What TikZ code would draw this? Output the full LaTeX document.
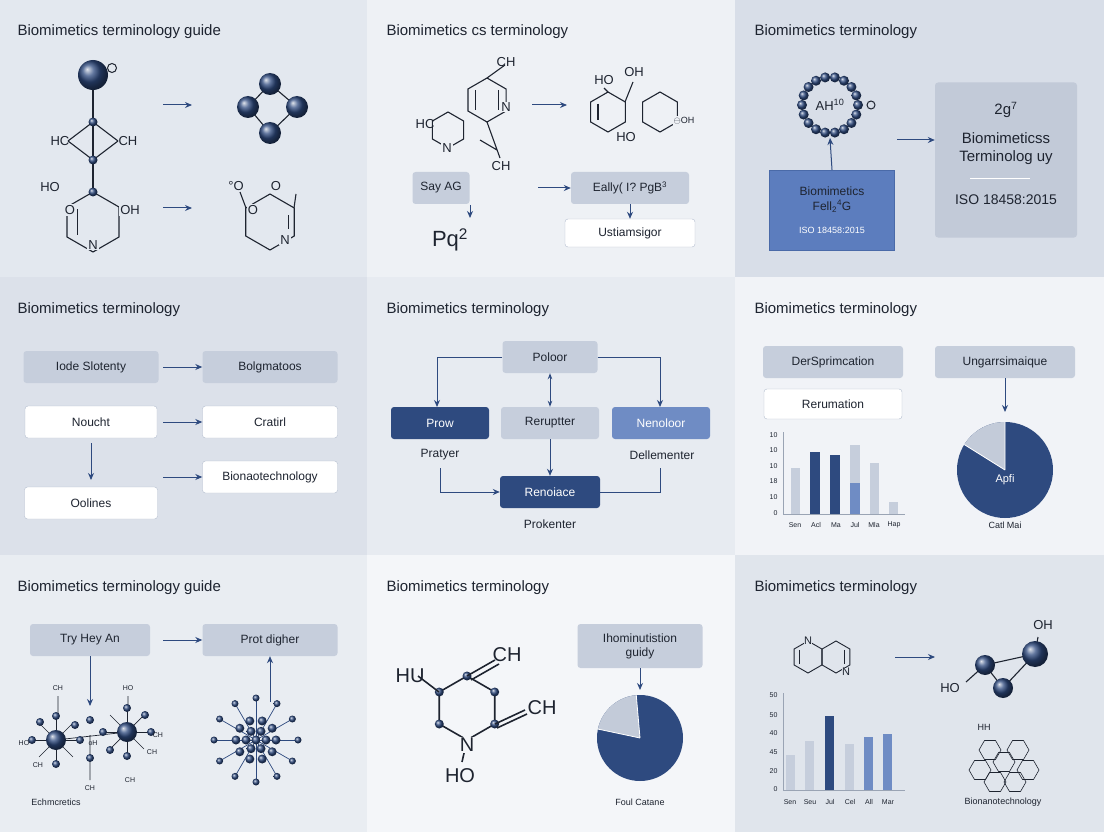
\documentclass[tikz,border=0pt]{standalone}
\usepackage{fontspec}
\setmainfont{Liberation Sans}
\usetikzlibrary{arrows.meta,shapes.geometric,calc}
\definecolor{dk}{HTML}{2E4A7F}
\definecolor{md}{HTML}{6F8CC4}
\definecolor{lb}{HTML}{C6CEDC}
\definecolor{bd}{HTML}{B3BDCE}
\definecolor{tx}{HTML}{1E2430}
\definecolor{pa}{HTML}{E3E8EF}
\definecolor{pb}{HTML}{EEF1F5}
\definecolor{pc}{HTML}{D8DEE8}
\definecolor{pd}{HTML}{DCE1EA}
\definecolor{pe}{HTML}{E7EBF1}
\definecolor{pf}{HTML}{F1F3F7}
\definecolor{pg}{HTML}{E9EDF2}
\definecolor{ph}{HTML}{F4F6F9}
\definecolor{pi}{HTML}{E0E5EC}
\definecolor{bl}{HTML}{5C7DBE}
\definecolor{blb}{HTML}{4A6AA8}
\definecolor{gb}{HTML}{C2CAD8}
\definecolor{ax}{HTML}{9AA4B4}
\definecolor{pl}{HTML}{C3CBD9}
\tikzset{
 lbox/.style={fill=lb,rounded corners=3pt,minimum height=32pt,text=tx,font=\fontsize{12}{14}\selectfont},
 wbox/.style={fill=white,draw=bd,rounded corners=3pt,minimum height=32pt,text=tx,font=\fontsize{12}{14}\selectfont},
 dbox/.style={fill=dk,rounded corners=3pt,minimum height=32pt,text=white,font=\fontsize{12}{14}\selectfont},
 arr/.style={-{Stealth[length=7pt,width=6pt]},draw=dk,line width=1pt},
 ttl/.style={anchor=west,font=\fontsize{15}{17}\selectfont,text=tx},
 lab/.style={font=\fontsize{13}{15}\selectfont,text=tx},
 sm/.style={font=\fontsize{7}{8}\selectfont,text=tx},
 ball/.style={circle,shade,ball color=dk,inner sep=0pt},
 bond/.style={draw=tx,line width=1.1pt},
}
\begin{document}
\begin{tikzpicture}[x=1pt,y=-1pt]
\useasboundingbox (0,0) rectangle (1104,832);
% panels
\fill[pa] (0,0) rectangle (367,277);
\fill[pb] (367,0) rectangle (735,277);
\fill[pc] (735,0) rectangle (1104,277);
\fill[pd] (0,277) rectangle (367,555);
\fill[pe] (367,277) rectangle (735,555);
\fill[pf] (735,277) rectangle (1104,555);
\fill[pg] (0,555) rectangle (367,832);
\fill[ph] (367,555) rectangle (735,832);
\fill[pi] (735,555) rectangle (1104,832);
% titles
\node[ttl] (t1) at (14,32) {Biomimetics terminology guide};
\node[ttl] (t2) at (383,32) {Biomimetics cs terminology};
\node[ttl] (t3) at (751,32) {Biomimetics terminology};
\node[ttl] (t4) at (14,310) {Biomimetics terminology};
\node[ttl] (t5) at (383,310) {Biomimetics terminology};
\node[ttl] (t6) at (751,310) {Biomimetics terminology};
\node[ttl] (t7) at (14,588) {Biomimetics terminology guide};
\node[ttl] (t8) at (383,588) {Biomimetics terminology};
\node[ttl] (t9) at (751,588) {Biomimetics terminology};

% ---------- panel 1
\draw[bond] (93,75) -- (93,160);
\draw[bond] (93,122) -- (68,141) (93,122) -- (118,141) (68,141) -- (93,160) (118,141) -- (93,160);
\begin{scope}[shift={(93,222)},y=1pt]
\draw[bond] (90:30) -- (150:30) -- (210:30) -- (270:30) -- (330:30) -- (30:30) -- cycle;
\draw[bond] (140:20) -- (220:20);
\end{scope}
\draw[bond] (93,160) -- (93,192);
\node[ball,minimum size=30pt] (b1) at (93,75) {};
\node[circle,draw=tx,line width=1pt,minimum size=9pt,inner sep=0pt] (o1) at (112,68) {};
\foreach \p in {(93,122),(93,160),(93,192)} \node[ball,minimum size=9pt] at \p {};
\node[lab] (hc1) at (60,141) {HC};
\node[lab] (ch1) at (128,141) {CH};
\node[lab] (ho1) at (50,187) {HO};
\node[lab,fill=pa,inner sep=1pt] at (70,210) {O};
\node[lab,fill=pa,inner sep=1pt] at (130,210) {OH};
\node[lab,fill=pa,inner sep=1pt] at (93,245) {N};
\coordinate (a1s) at (163,105); \coordinate (a1e) at (192,105);
\draw[arr] (a1s) -- (a1e);
\coordinate (a2s) at (163,208); \coordinate (a2e) at (192,208);
\draw[arr] (a2s) -- (a2e);
\draw[bond] (248,107) -- (270,84) -- (297,107) -- (270,133) -- cycle;
\foreach \p in {(248,107),(270,84),(297,107),(270,133)} \node[ball,minimum size=22pt] at \p {};
\begin{scope}[shift={(270,222)},y=1pt]
\draw[bond] (90:28) -- (150:28) -- (210:28) -- (270:28) -- (330:28) -- (30:28) -- cycle;
\draw[bond] (20:20) -- (-20:20);
\end{scope}
\draw[bond] (246,208) -- (240,192) (294,208) -- (296,194);
\node[lab,fill=pa,inner sep=1pt] at (253,210) {O};
\node[lab] at (236,186) {\textdegree O};
\node[lab] at (276,186) {O};
\node[lab,fill=pa,inner sep=1pt] at (285,240) {N};

% ---------- panel 2
\begin{scope}[shift={(487,100)},y=1pt]
\draw[bond] (90:22) -- (150:22) -- (210:22) -- (270:22) -- (330:22) -- (30:22) -- cycle;
\draw[bond] (140:15) -- (220:15) (320:15) -- (40:15);
\end{scope}
\begin{scope}[shift={(448,130)},y=1pt]
\draw[bond] (90:18) -- (150:18) -- (210:18) -- (270:18) -- (330:18) -- (30:18) -- cycle;
\end{scope}
\draw[bond] (487,78) -- (505,65) (487,122) -- (500,158) (480,140) -- (497,150);
\node[lab] at (506,62) {CH};
\node[lab,fill=pb,inner sep=1pt] at (506,107) {N};
\node[lab] at (425,124) {HC};
\node[lab] at (501,166) {CH};
\node[lab,fill=pb,inner sep=1pt] at (447,148) {N};
\coordinate (a3s) at (532,105); \coordinate (a3e) at (567,105);
\draw[arr] (a3s) -- (a3e);
\begin{scope}[shift={(608,112)},y=1pt]
\draw[bond] (90:20) -- (150:20) -- (210:20) -- (270:20) -- (330:20) -- (30:20) -- cycle;
\draw[bond] (140:13) -- (220:13);
\end{scope}
\begin{scope}[shift={(660,112)},y=1pt]
\draw[bond] (90:20) -- (150:20) -- (210:20) -- (270:20) -- (330:20) -- (30:20) -- cycle;
\end{scope}
\draw[bond] (625,102) -- (633,82) (608,92) -- (604,88);
\node[lab] at (604,80) {HO};
\node[lab] at (634,72) {OH};
\node[lab,fill=pb,inner sep=1pt] at (684,121) {\small$\ominus$OH};
\node[lab,fill=pb,inner sep=1pt] at (626,137) {HO};
\node[lbox,minimum width=57pt] (say) at (441,188) {Say AG};
\node[lbox,minimum width=118pt] (eal) at (630,188) {Eally( I? PgB\textsuperscript{3}};
\coordinate (sa) at (538,188);
\draw[arr] (sa) -- (eal);
\node[font=\fontsize{22}{24}\selectfont,text=tx] (pq) at (450,240) {Pq\textsuperscript{2}};
\draw[arr] (470,205) -- (470,218);
\node[wbox,minimum width=130pt,minimum height=28pt] (ust) at (630,233) {Ustiamsigor};
\draw[arr] (eal.south) -- (ust.north);

% ---------- panel 3
\foreach \a in {0,20,...,340} \node[ball,minimum size=10pt] at ($(830,105)+(\a:28)$) {};
\node[lab] at (830,105) {AH\textsuperscript{10}};
\node[circle,draw=tx,line width=1pt,minimum size=8pt,inner sep=0pt] at (871,105) {};
\node[fill=bl,minimum width=125pt,minimum height=80pt,draw=blb,text=tx,align=center,font=\fontsize{12}{15}\selectfont] (bio) at (832,210) {Biomimetics\\Fell\textsubscript{2}\textsuperscript{4}G\\[8pt]\color{white}\fontsize{9}{10}\selectfont ISO 18458:2015};
\draw[arr] (bio.north) -- (830,138);
\node[fill=gb,rounded corners=3pt,minimum width=142pt,minimum height=155pt] (gbx) at (1006,160) {};
\node[lab,font=\fontsize{15}{17}\selectfont] at (1006,110) {2g\textsuperscript{7}};
\node[lab,font=\fontsize{15}{17}\selectfont] at (1006,138) {Biomimeticss};
\node[lab,font=\fontsize{15}{17}\selectfont] at (1006,158) {Terminolog uy};
\draw[white,line width=0.8pt] (970,178) -- (1030,178);
\node[lab,font=\fontsize{14}{16}\selectfont] at (1006,200) {ISO 18458:2015};
\draw[arr] (897,140) -- (gbx.west |- 0,140);

% ---------- panel 4
\node[lbox,minimum width=135pt] (n41) at (91,367) {Iode Slotenty};
\node[lbox,minimum width=135pt] (n42) at (270,367) {Bolgmatoos};
\node[wbox,minimum width=132pt] (n43) at (91,422) {Noucht};
\node[wbox,minimum width=135pt] (n44) at (270,422) {Cratirl};
\node[wbox,minimum width=133pt] (n45) at (91,503) {Oolines};
\node[wbox,minimum width=135pt] (n46) at (270,477) {Bionaotechnology};
\draw[arr] (163,367) -- (n42);
\draw[arr] (163,422) -- (n44);
\draw[arr] (163,477) -- (n46);
\draw[arr] (91,443) -- (91,480);

% ---------- panel 5
\node[lbox,minimum width=95pt] (po) at (550,357) {Poloor};
\node[dbox,minimum width=98pt] (pr) at (440,423) {Prow};
\node[lbox,minimum width=98pt] (re) at (550,423) {Reruptter};
\node[fill=md,rounded corners=3pt,minimum height=32pt,minimum width=98pt,text=white,font=\fontsize{12}{14}\selectfont] (ne) at (661,423) {Nenoloor};
\node[lab,font=\fontsize{12}{14}\selectfont] (pt) at (440,455) {Pratyer};
\node[lab,font=\fontsize{12}{14}\selectfont] (de) at (662,455) {Dellementer};
\node[dbox,minimum width=100pt] (rn) at (550,492) {Renoiace};
\node[lab,font=\fontsize{12}{14}\selectfont] (pk) at (550,524) {Prokenter};
\draw[arr] (po.west) -| (437,407);
\draw[arr] (po.east) -| (660,407);
\draw[{Stealth[length=6pt]}-{Stealth[length=6pt]},draw=dk,line width=1pt] (po.south) -- (re.north);
\draw[arr] (re.south) -- (rn.north);
\draw[arr] (440,468) |- (rn.west);
\draw[draw=dk,line width=1pt] (660,468) |- (rn.east);

% ---------- panel 6
\node[lbox,minimum width=140pt] (ds) at (833,362) {DerSprimcation};
\node[lbox,minimum width=140pt] (ug) at (1005,362) {Ungarrsimaique};
\node[wbox,minimum width=138pt,minimum height=30pt] (ru) at (833,404) {Rerumation};
\draw[ax,line width=0.6pt] (783,432) -- (783,514) -- (905,514);
\foreach \v/\y in {10/435,10/450,10/466,18/481,10/497,0/513} \node[sm,anchor=east] at (781,\y) {\v};
\fill[lb] (791,468) rectangle (800,514);
\fill[dk] (810,452) rectangle (820,514);
\fill[dk] (830,455) rectangle (840,514);
\fill[lb] (850,445) rectangle (860,514);
\fill[md] (850,483) rectangle (860,514);
\fill[lb] (870,463) rectangle (879,514);
\fill[lb] (889,502) rectangle (898,514);
\foreach \t/\x in {Sen/795,Acl/816,Ma/836,Jul/855,Mla/874,Hap/894} \node[sm] at (\x,525) {\t};
\begin{scope}[shift={(1005,470)},y=1pt]
\fill[dk] (0,0) circle (48);
\fill[pl] (0,0) -- (90:48) arc[start angle=90,end angle=148,radius=48] -- cycle;
\draw[white,line width=0.8pt] (0,0) -- (90:48) (0,0) -- (148:48);
\end{scope}
\node[text=white,font=\fontsize{11}{13}\selectfont] at (1005,480) {Apfi};
\draw[arr] (ug.south) -- (1005,412);
\node[sm,font=\fontsize{9}{10}\selectfont] at (1005,525) {Catl Mai};

% ---------- panel 7
\node[lbox,minimum width=120pt] (th) at (90,640) {Try Hey An};
\node[lbox,minimum width=135pt] (pdg) at (270,640) {Prot digher};
\coordinate (ta) at (163,640);
\draw[arr] (ta) -- (pdg);
\draw[arr] (th.south) -- (90,706);
\foreach \a/\b in {56/740,127/732} {
  \foreach \ang in {0,45,...,315} \draw[bond,line width=0.7pt] (\a,\b) -- ++(\ang:24);
}
\draw[bond,line width=0.7pt] (56,740) -- (127,732) (58,696) -- (58,716) (128,696) -- (128,708) (90,735) -- (90,780);
\foreach \p in {(56,716),(80,740),(32,740),(56,764),(103,732),(127,708),(151,732),(127,756),(90,720),(90,758),(75,725),(110,750),(40,722),(145,715)} \node[ball,minimum size=8pt] at \p {};
\node[ball,minimum size=20pt] at (56,740) {};
\node[ball,minimum size=20pt] at (127,732) {};
\foreach \t/\p in {CH/{(58,688)},HO/{(128,688)},HO/{(24,743)},CH/{(158,735)},CH/{(152,752)},CH/{(38,765)},CH/{(90,788)},CH/{(130,780)},oH/{(93,743)}} \node[sm] at \p {\t};
\node[sm,font=\fontsize{9}{10}\selectfont] at (56,802) {Echmcretics};
\foreach \ang in {0,30,...,330} {
  \draw[dk,line width=0.7pt] (256,740) -- ++(\ang:42);
  \node[ball,minimum size=7pt] at ($(256,740)+(\ang:42)$) {};
}
\foreach \r/\n in {0/1,10/6,20/10} \foreach \k in {1,...,\n} \node[ball,minimum size=9pt] at ($(256,740)+({360*\k/\n}:\r)$) {};
\draw[arr] (270,702) -- (pdg.south);

% ---------- panel 8
\begin{scope}[shift={(467,708)},y=1pt]
\draw[bond,line width=1.6pt] (90:32) -- (150:32) -- (210:32) -- (270:32) -- (330:32) -- (30:32) -- cycle;
\foreach \a in {90,150,210,330,30} \node[ball,minimum size=9pt] at (\a:32) {};
\end{scope}
\draw[bond,line width=1.6pt] (439,692) -- (418,676) (467,676) -- (495,660) (471,680) -- (499,664) (495,724) -- (525,710) (497,728) -- (527,714) (467,740) -- (462,762);
\node[font=\fontsize{20}{22}\selectfont,text=tx] at (410,676) {HU};
\node[font=\fontsize{20}{22}\selectfont,text=tx] at (507,655) {CH};
\node[font=\fontsize{20}{22}\selectfont,text=tx] at (542,708) {CH};
\node[font=\fontsize{20}{22}\selectfont,text=tx,fill=ph,inner sep=1pt] at (467,745) {N};
\node[font=\fontsize{20}{22}\selectfont,text=tx] at (460,776) {HO};
\node[lbox,minimum width=125pt,minimum height=44pt,align=center,font=\fontsize{12}{14}\selectfont] (ig) at (640,646) {Ihominutistion\\guidy};
\draw[arr] (ig.south) -- (640,690);
\begin{scope}[shift={(640,738)},y=1pt]
\fill[dk] (0,0) circle (43);
\fill[pl] (0,0) -- (95:43) arc[start angle=95,end angle=168,radius=43] -- cycle;
\draw[white,line width=0.8pt] (0,0) -- (95:43) (0,0) -- (168:43);
\end{scope}
\node[sm,font=\fontsize{9}{10}\selectfont] at (640,802) {Foul Catane};

% ---------- panel 9
\begin{scope}[shift={(808,657)},y=1pt]
\draw[bond,line width=0.9pt] (90:16) -- (150:16) -- (210:16) -- (270:16) -- (330:16) -- (30:16) -- cycle;
\draw[bond,line width=0.9pt] (140:11) -- (220:11);
\end{scope}
\begin{scope}[shift={(836,657)},y=1pt]
\draw[bond,line width=0.9pt] (90:16) -- (150:16) -- (210:16) -- (270:16) -- (330:16) -- (30:16) -- cycle;
\draw[bond,line width=0.9pt] (40:11) -- (-40:11);
\end{scope}
\node[sm,font=\fontsize{11}{12}\selectfont,fill=pi,inner sep=0.5pt] at (808,641) {N};
\node[sm,font=\fontsize{11}{12}\selectfont,fill=pi,inner sep=0.5pt] at (846,672) {N};
\draw[arr] (895,657) -- (935,657);
\draw[bond] (985,665) -- (1035,654) -- (1003,688) -- (985,665) (1035,654) -- (1038,637) (985,665) -- (966,682);
\node[ball,minimum size=20pt] at (985,665) {};
\node[ball,minimum size=26pt] at (1035,654) {};
\node[ball,minimum size=20pt] at (1003,688) {};
\node[lab] at (1043,625) {OH};
\node[lab] at (950,688) {HO};
\draw[ax,line width=0.6pt] (783,693) -- (783,790) -- (905,790);
\foreach \v/\y in {50/695,50/715,40/733,45/752,20/771,0/789} \node[sm,anchor=east] at (781,\y) {\v};
\fill[lb] (786,755) rectangle (795,790);
\fill[lb] (805,741) rectangle (814,790);
\fill[dk] (825,716) rectangle (834,790);
\fill[lb] (845,744) rectangle (854,790);
\fill[md] (864,737) rectangle (873,790);
\fill[md] (883,734) rectangle (892,790);
\foreach \t/\x in {Sen/790,Seu/810,Jul/830,Cel/850,All/869,Mar/888} \node[sm] at (\x,802) {\t};
\node[sm,font=\fontsize{9}{10}\selectfont] at (984,727) {HH};
\foreach \c in {(990,750),(1018,750),(980,770),(1028,770),(1004,762),(995,782),(1015,782)} {
  \node[draw=tx,regular polygon,regular polygon sides=6,minimum size=22pt,line width=0.6pt,inner sep=0pt] at \c {};
}
\node[sm,font=\fontsize{9}{10}\selectfont] at (1003,802) {Bionanotechnology};
\end{tikzpicture}
\end{document}
